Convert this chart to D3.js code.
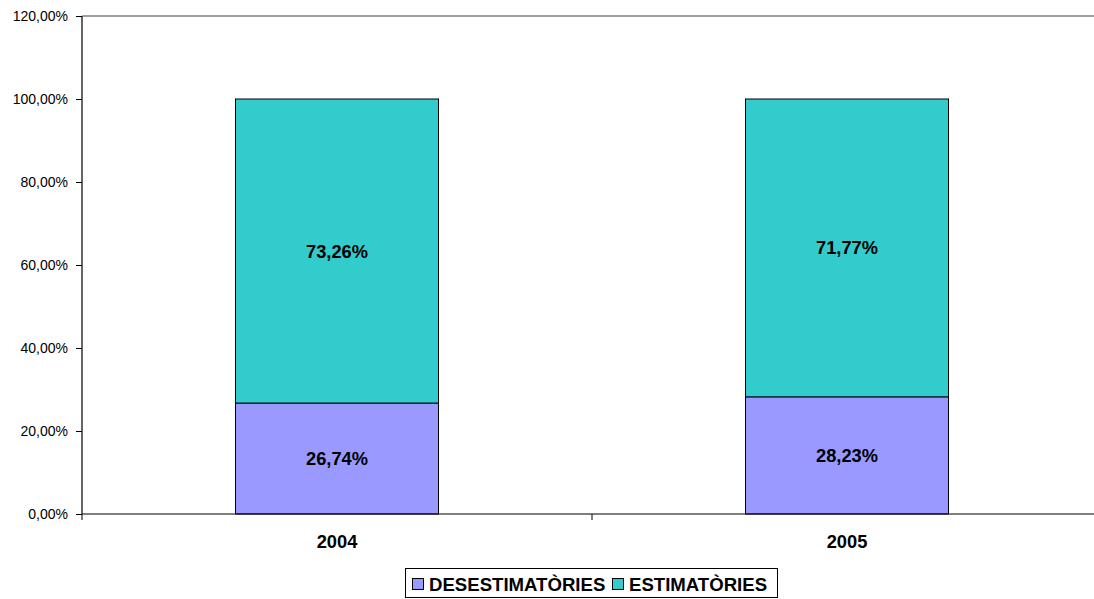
<!DOCTYPE html>
<html><head><meta charset="utf-8">
<script src="https://cdn.jsdelivr.net/npm/d3@7"></script>
<style>body{margin:0;background:#fff}svg{display:block;font-family:Arial,"Liberation Sans",sans-serif}</style>
</head><body><svg id="c" width="1094" height="599"></svg>
<script>
const categories = ["2004", "2005"];
const desestimatories = [26.74, 28.23];
const estimatories = [73.26, 71.77];
const seriesNames = ["DESESTIMATÒRIES", "ESTIMATÒRIES"];
const yTicks = [0, 20, 40, 60, 80, 100, 120];
const colors = ["#9999ff", "#33cccc"];

const svg = d3.select("#c");
const pL = 82, pT = 16, pB = 514, pR = 1102;
const FF = "Arial, Liberation Sans, sans-serif";
const x = d3.scaleBand().domain(categories).range([pL, pR]).paddingInner(0).paddingOuter(0);
const y = d3.scaleLinear().domain([0, 120]).range([pB, pT]);
const fmt = v => v.toFixed(2).replace(".", ",") + "%";

// top border of plot area
svg.append("line").attr("x1", pL).attr("x2", 1094).attr("y1", y(120)).attr("y2", y(120))
  .attr("stroke", "#808080").attr("stroke-width", 1.5);

const data = categories.map((c, i) => ({c, vals: [desestimatories[i], estimatories[i]]}));
const barW = 203;
data.forEach(d => {
  let base = 0;
  d.vals.forEach((v, j) => {
    const cx = x(d.c) + x.bandwidth() / 2;
    svg.append("rect").attr("x", cx - barW / 2).attr("width", barW)
      .attr("y", y(base + v)).attr("height", y(base) - y(base + v))
      .attr("fill", colors[j]).attr("stroke", "#000").attr("stroke-width", 1);
    svg.append("text").attr("x", cx).attr("y", (y(base) + y(base + v)) / 2 + 6.5)
      .attr("text-anchor", "middle").attr("font-weight", "bold").attr("font-size", 18.3)
      .attr("font-family", FF).text(fmt(v));
    base += v;
  });
});

// Y axis
const yAxis = d3.axisLeft(y).tickValues(yTicks).tickFormat(fmt).tickSize(6).tickPadding(8);
const gy = svg.append("g").attr("transform", `translate(${pL},0)`).call(yAxis);
gy.select(".domain").attr("stroke", "#000").attr("stroke-width", 1.2).attr("d", `M0,${pT}V${pB}`);
gy.selectAll("text").attr("font-size", 14).attr("fill", "#000").attr("font-family", FF);

// X axis
const xAxis = d3.axisBottom(x).tickSize(0).tickPadding(0);
const gx = svg.append("g").attr("transform", `translate(0,${pB})`).call(xAxis);
gx.select(".domain").attr("stroke", "#000").attr("stroke-width", 1.2).attr("d", `M${pL},0H${pR}`);
gx.selectAll("text").attr("font-size", 18.3).attr("font-weight", "bold").attr("fill", "#000")
  .attr("y", 34).attr("dy", 0).attr("font-family", FF);
// category boundary ticks
[pL, x(categories[1]), pR].forEach(t => {
  gx.append("line").attr("x1", t).attr("x2", t).attr("y1", 0).attr("y2", 6).attr("stroke", "#000");
});

// Legend
const lg = svg.append("g");
lg.append("rect").attr("x", 405.5).attr("y", 568.5).attr("width", 372).attr("height", 29)
  .attr("fill", "#fff").attr("stroke", "#000").attr("stroke-width", 1);
const items = [{x: 412, tx: 429}, {x: 612, tx: 629}];
seriesNames.forEach((n, i) => {
  lg.append("rect").attr("x", items[i].x + 0.5).attr("y", 578.5).attr("width", 11).attr("height", 11)
    .attr("fill", colors[i]).attr("stroke", "#000");
  lg.append("text").attr("x", items[i].tx).attr("y", 590.5).attr("font-size", 18.6).attr("font-weight", "bold")
    .attr("font-family", FF).text(n);
});
</script></body></html>
